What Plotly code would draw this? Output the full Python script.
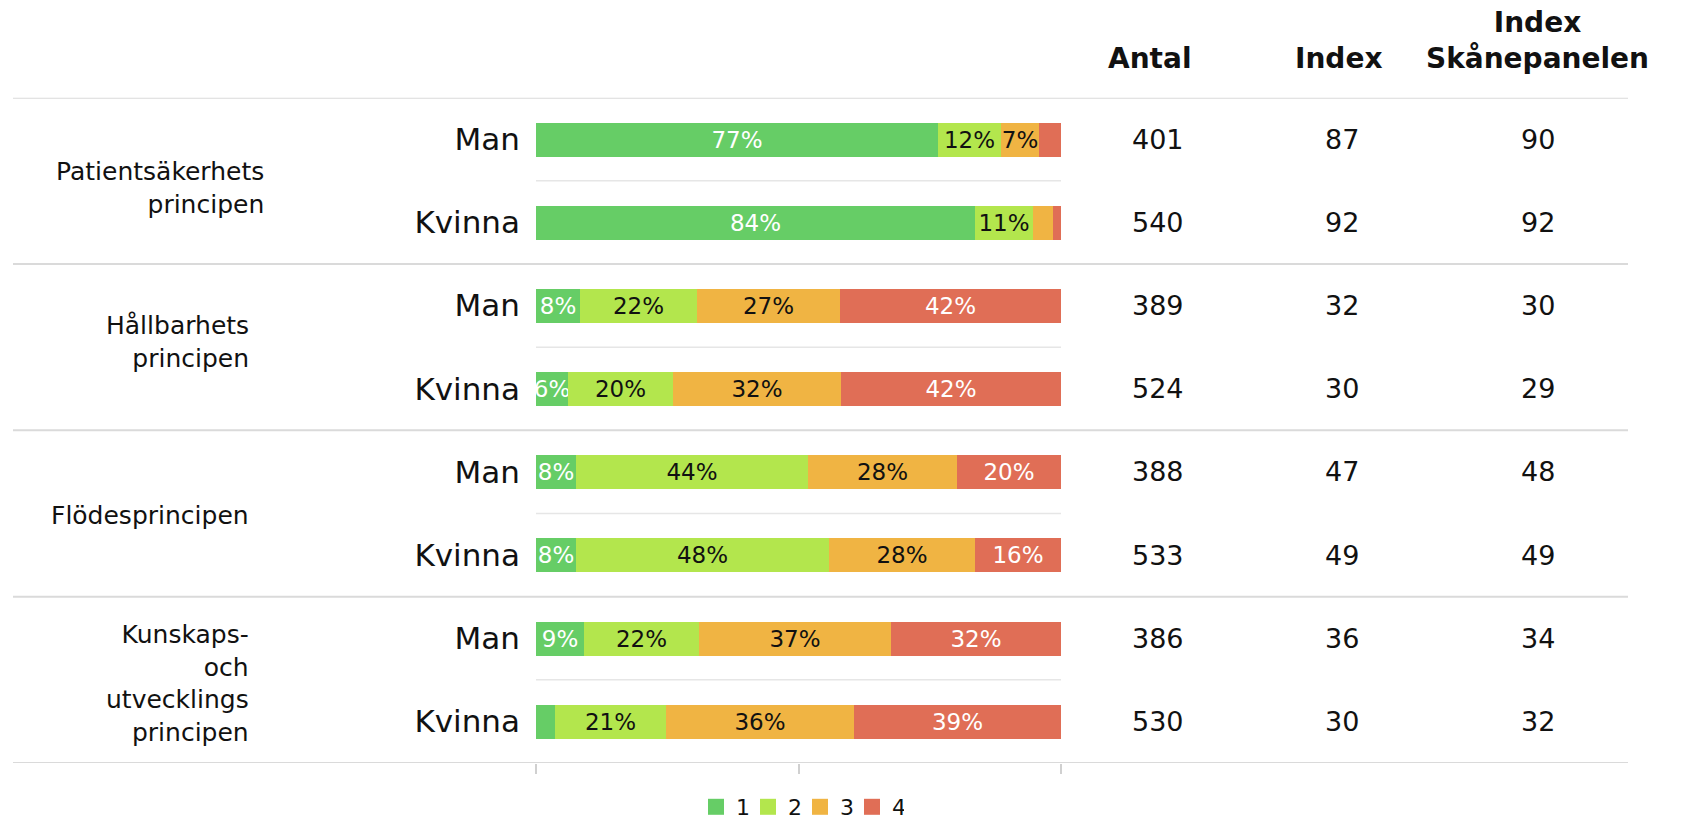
import plotly.graph_objects as go

# ---- data ----
groups = ["Patientsäkerhets<br>principen", "Hållbarhets<br>principen",
          "Flödesprincipen", "Kunskaps-<br>och<br>utvecklings<br>principen"]
rows = ["Man", "Kvinna", "Man", "Kvinna", "Man", "Kvinna", "Man", "Kvinna"]
series_names = ["1", "2", "3", "4"]
p1 = [76.6, 83.6, 8.3, 6.0, 7.7, 7.6, 9.1, 3.7]
p2 = [12.0, 11.0, 22.4, 20.1, 44.2, 48.2, 22.0, 21.1]
p3 = [7.3, 3.9, 27.2, 32.0, 28.2, 27.8, 36.6, 35.8]
p4 = [4.1, 1.5, 42.1, 41.9, 19.9, 16.4, 32.3, 39.4]
antal = [401, 540, 389, 524, 388, 533, 386, 530]
index_vals = [87, 92, 32, 30, 47, 49, 36, 30]
skane_vals = [90, 92, 30, 29, 48, 49, 34, 32]
col_headers = ["Antal", "Index", "Index<br>Skånepanelen"]

colors = ["#66CD66", "#B3E64D", "#F0B443", "#E06E56"]
text_colors = ["white", "#111111", "#111111", "white"]

W, H = 1683, 819
FONT = "DejaVu Sans"

def px_x(x):
    return x / W

def px_y(y):
    return 1 - y / H

y_pos = [i + 0.5 for i in range(len(rows))]

fig = go.Figure()
for name, vals, col, tcol in zip(series_names, [p1, p2, p3, p4], colors, text_colors):
    fig.add_trace(go.Bar(
        x=vals, y=y_pos, orientation="h", name=name, showlegend=False,
        marker=dict(color=col, line=dict(width=0)),
        width=0.41,
        text=[f"{round(v):d}%" if v >= 5 else "" for v in vals],
        textposition="inside", insidetextanchor="middle",
        constraintext="none", textangle=0, cliponaxis=False,
        textfont=dict(family=FONT, size=23, color=tcol),
        hoverinfo="x+name",
    ))
# legend proxies (square swatches)
for name, col in zip(series_names, colors):
    fig.add_trace(go.Scatter(x=[None], y=[None], mode="markers", name=name,
                             marker=dict(symbol="square", size=16, color=col),
                             showlegend=True, hoverinfo="skip"))

shapes = []
n = len(rows)
# inner gridlines (within bar area) at every row boundary
for b in range(1, n, 2):
    shapes.append(dict(type="line", xref="x domain", yref="y", x0=0, x1=1, y0=b, y1=b,
                       line=dict(color="#E6E6E6", width=1.5), layer="below"))
# group separators across the whole width
for b in range(0, n + 1, 2):
    shapes.append(dict(type="line", xref="paper", yref="y", x0=px_x(13), x1=px_x(1628),
                       y0=b, y1=b, line=dict(color="#DADADA", width=2), layer="below"))

annotations = []
# group labels
right_edges = [266, 251, 251, 251]
yshifts = [-7, 5, -2, -4]
for gi, (g, re, ys) in enumerate(zip(groups, right_edges, yshifts)):
    annotations.append(dict(text=g, xref="paper", yref="y", x=px_x(re), y=2 * gi + 1,
                            yshift=ys,
                            xanchor="right", yanchor="middle", align="right", showarrow=False,
                            font=dict(family=FONT, size=25, color="#111111")))
# column values
col_x = [1158, 1342, 1538]
for cx, vals in zip(col_x, [antal, index_vals, skane_vals]):
    for yv, v in zip(y_pos, vals):
        annotations.append(dict(text=str(v), xref="paper", yref="y", x=px_x(cx), y=yv,
                                xanchor="center", yanchor="middle", showarrow=False,
                                font=dict(family=FONT, size=27, color="#111111")))
# column headers
hdr_x = [1149, 1338, 1537]
for hx, h in zip(hdr_x, col_headers):
    annotations.append(dict(text=f"<b>{h}</b>", xref="paper", yref="paper", x=px_x(hx), y=px_y(77),
                            xanchor="center", yanchor="bottom", align="center", showarrow=False,
                            font=dict(family=FONT, size=28, color="#111111")))

fig.update_layout(
    width=W, height=H, margin=dict(l=0, r=0, t=0, b=0, autoexpand=False),
    paper_bgcolor="white", plot_bgcolor="white",
    barmode="stack", bargap=0,
    showlegend=True,
    legend=dict(orientation="h", x=px_x(800), xanchor="center", y=px_y(807), yanchor="middle",
                font=dict(family=FONT, size=22, color="#111111"), itemwidth=30,
                entrywidth=7, entrywidthmode="pixels",
                traceorder="normal", bgcolor="rgba(0,0,0,0)"),
    xaxis=dict(domain=[px_x(536), px_x(1061)], range=[0, 100], showgrid=False, zeroline=False,
               showticklabels=False, tickvals=[0, 50, 100], ticks="outside", ticklen=10,
               tickcolor="#D0D0D0", tickwidth=1.5, showline=False, fixedrange=True),
    yaxis=dict(domain=[px_y(763), px_y(97.7)], range=[n, 0], showgrid=False, zeroline=False,
               tickvals=y_pos, ticktext=rows, ticks="", showline=False, ticklabelstandoff=15,
               tickfont=dict(family=FONT, size=31, color="#111111"), fixedrange=True),
    shapes=shapes, annotations=annotations,
    font=dict(family=FONT),
)

fig.write_html("out.html", config={"displayModeBar": False},
               post_script="document.body.style.margin='0';document.body.style.overflow='hidden';")
